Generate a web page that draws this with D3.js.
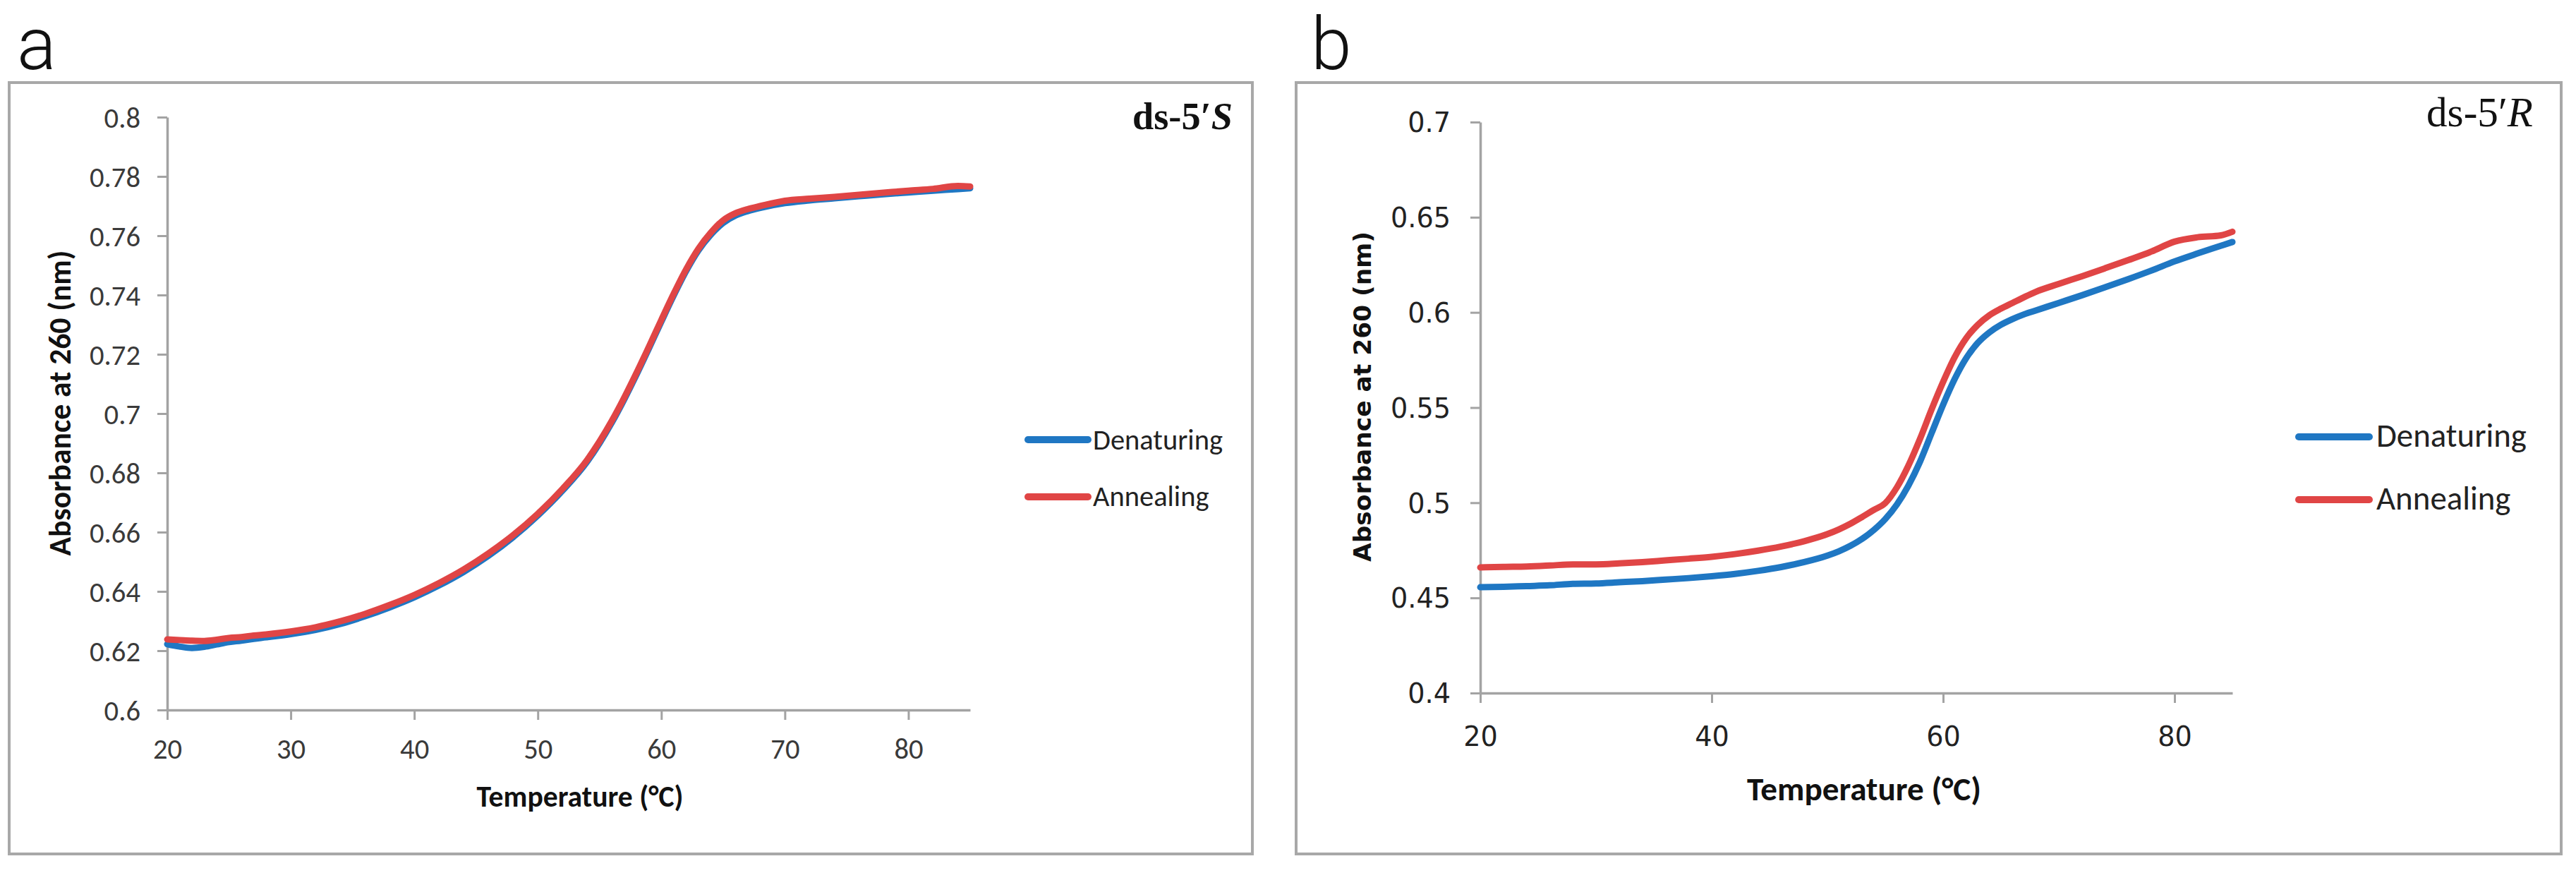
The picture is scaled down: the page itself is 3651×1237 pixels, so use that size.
<!DOCTYPE html>
<html>
<head>
<meta charset="utf-8">
<script src="https://cdn.jsdelivr.net/npm/d3@7"></script>
<style>
  body { margin: 0; background: #fff; }
</style>
</head>
<body>
<svg id="fig" width="3651" height="1237"></svg>
<script>
// ---- data ----
const seriesNames = ['Denaturing', 'Annealing'];

// panel a: ds-5'S
const tempA = [20, 21, 22, 23, 24, 25, 26, 27, 28, 30, 32, 34, 36, 38, 40, 42, 44, 46, 48, 50,
  52, 54, 55, 56, 57, 58, 59, 60, 61, 62, 63, 64, 65, 66, 67, 68, 70, 72, 74, 76, 78, 80, 82, 84, 85];
const denatA = [0.6222, 0.6214, 0.6209, 0.6213, 0.6221, 0.6229, 0.6234, 0.6240, 0.6245, 0.6256,
  0.6270, 0.6290, 0.6316, 0.6346, 0.6380, 0.6420, 0.6466, 0.6520, 0.6583, 0.6656,
  0.6740, 0.6838, 0.6900, 0.6970, 0.7048, 0.7132, 0.7220, 0.7310, 0.7398, 0.7480,
  0.7550, 0.7603, 0.7643, 0.7668, 0.7683, 0.7694, 0.7710, 0.7719, 0.7726, 0.7733,
  0.7740, 0.7746, 0.7752, 0.7757, 0.7760];
const annealA = [0.6238, 0.6236, 0.6234, 0.6233, 0.6237, 0.6243, 0.6246, 0.6251, 0.6255, 0.6265,
  0.6279, 0.6299, 0.6324, 0.6354, 0.6388, 0.6428, 0.6474, 0.6528, 0.6590, 0.6662,
  0.6746, 0.6844, 0.6906, 0.6976, 0.7054, 0.7138, 0.7226, 0.7316, 0.7404, 0.7486,
  0.7556, 0.7610, 0.7652, 0.7676, 0.7690, 0.7700, 0.7718, 0.7725, 0.7731, 0.7738,
  0.7745, 0.7752, 0.7758, 0.7768, 0.7766];

// panel b: ds-5'R
const tempB = [20, 22, 24, 26, 28, 30, 32, 34, 36, 38, 40, 42, 44, 46, 48, 50, 51, 52, 53, 54,
  55, 56, 57, 58, 59, 60, 61, 62, 63, 64, 65, 66, 67, 68, 70, 72, 74, 76, 78, 80, 82, 84, 85];
const denatB = [0.4556, 0.4558, 0.4562, 0.4566, 0.4574, 0.4576, 0.4582, 0.4588, 0.4596, 0.4604,
  0.4614, 0.4626, 0.4642, 0.4662, 0.4688, 0.4722, 0.4745, 0.4774, 0.4810, 0.4856,
  0.4914, 0.4990, 0.5090, 0.5215, 0.5365, 0.5515, 0.5650, 0.5760, 0.5840, 0.5895,
  0.5935, 0.5965, 0.5990, 0.6010, 0.6050, 0.6090, 0.6132, 0.6175, 0.6220, 0.6268,
  0.6310, 0.6350, 0.6370];
const annealB = [0.4660, 0.4663, 0.4665, 0.4670, 0.4676, 0.4676, 0.4681, 0.4688, 0.4697, 0.4706,
  0.4716, 0.4730, 0.4748, 0.4770, 0.4798, 0.4835, 0.4860, 0.4890, 0.4925, 0.4962,
  0.4998, 0.5080, 0.5195, 0.5335, 0.5490, 0.5635, 0.5765, 0.5865, 0.5935, 0.5985,
  0.6020, 0.6050, 0.6080, 0.6108, 0.6150, 0.6190, 0.6232, 0.6275, 0.6320, 0.6372,
  0.6395, 0.6405, 0.6424];

const xTicksA = [20, 30, 40, 50, 60, 70, 80];
const yTicksA = [0.6, 0.62, 0.64, 0.66, 0.68, 0.7, 0.72, 0.74, 0.76, 0.78, 0.8];
const xTicksB = [20, 40, 60, 80];
const yTicksB = [0.4, 0.45, 0.5, 0.55, 0.6, 0.65, 0.7];

const colors = { Denaturing: '#1f77c3', Annealing: '#e04545' };
const sansCal = 'Carlito, "Open Sans", sans-serif';
const sansVer = '"DejaVu Sans", Verdana, sans-serif';
const serif = '"Liberation Serif", "DejaVu Serif", serif';

const svg = d3.select('#fig');

// font size that makes `sample` exactly `width` px wide
function sizeFor(font, weight, sample, width) {
  const t = svg.append('text').attr('font-family', font).attr('font-weight', weight)
    .attr('font-size', 100).text(sample);
  const w = t.node().getComputedTextLength();
  t.remove();
  return 100 * width / w;
}

function fitText(sel, width) {
  const w = sel.node().getComputedTextLength();
  const fs = parseFloat(sel.attr('font-size'));
  sel.attr('font-size', fs * width / w);
  return sel;
}

function drawPanel(p) {
  const g = svg.append('g');

  g.append('rect')
    .attr('x', p.frame[0]).attr('y', p.frame[1])
    .attr('width', p.frame[2] - p.frame[0]).attr('height', p.frame[3] - p.frame[1])
    .attr('fill', '#fff').attr('stroke', '#a8a8a8').attr('stroke-width', 4);

  // panel letter (thin sans, sits right at the top edge)
  g.append('text')
    .attr('x', p.letter.x).attr('y', p.letter.y)
    .attr('font-family', 'Roboto, "Liberation Sans", sans-serif').attr('font-weight', 300)
    .attr('font-size', 104)
    .attr('fill', '#111').text(p.letter.text);

  const x = d3.scaleLinear().domain([20, 85]).range(p.xRange);
  const y = d3.scaleLinear().domain(p.yDomain).range(p.yRange);
  const tickSize = sizeFor(p.tickFont, 'normal', p.tickSample, p.tickSampleW);
  const fmt = d => String(+d.toFixed(2));

  const xAxis = g.append('g')
    .attr('transform', `translate(0,${p.yRange[0]})`)
    .call(d3.axisBottom(x).tickValues(p.xTicks).tickSize(p.tick).tickSizeOuter(0).tickFormat(fmt));
  xAxis.selectAll('.tick text').attr('y', p.xLabelOff).attr('dy', null);

  const yAxis = g.append('g')
    .attr('transform', `translate(${p.xRange[0]},0)`)
    .call(d3.axisLeft(y).tickValues(p.yTicks).tickSize(p.tick).tickSizeOuter(0).tickFormat(fmt));
  yAxis.selectAll('.tick text').attr('x', -p.yLabelOff).attr('dy', '0.36em');

  [xAxis, yAxis].forEach(a => {
    a.select('.domain').attr('stroke', '#a3a3a3').attr('stroke-width', 3.5);
    a.selectAll('.tick line').attr('stroke', '#a3a3a3').attr('stroke-width', 3);
    a.selectAll('.tick text').attr('font-family', p.tickFont).attr('font-size', tickSize)
      .attr('fill', p.tickColor);
  });

  // curves
  const line = d3.line()
    .x((d, i) => x(p.temps[i]))
    .y(d => y(d))
    .curve(d3.curveMonotoneX);
  seriesNames.forEach(name => {
    g.append('path')
      .datum(p.values[name])
      .attr('d', line)
      .attr('fill', 'none')
      .attr('stroke', colors[name])
      .attr('stroke-width', 9)
      .attr('stroke-linejoin', 'round')
      .attr('stroke-linecap', 'round');
  });

  // axis titles
  const yt = g.append('text')
    .attr('transform', `translate(${p.yTitle.x},${p.yTitle.y}) rotate(-90)`)
    .attr('text-anchor', 'middle')
    .attr('font-family', p.yTitle.font).attr('font-weight', 'bold').attr('font-size', 40)
    .attr('fill', '#111').text('Absorbance at 260 (nm)');
  fitText(yt, p.yTitle.len);

  const xt = g.append('text')
    .attr('x', p.xTitle.x).attr('y', p.xTitle.y)
    .attr('text-anchor', 'middle')
    .attr('font-family', sansCal).attr('font-weight', 'bold').attr('font-size', 40)
    .attr('fill', '#111').text('Temperature (°C)');
  fitText(xt, p.xTitle.len);

  // sample tag, top right
  const tag = g.append('text')
    .attr('x', p.tag.x).attr('y', p.tag.y)
    .attr('text-anchor', 'end')
    .attr('font-family', serif).attr('font-weight', p.tag.weight).attr('font-size', 50)
    .attr('fill', '#111');
  tag.append('tspan').text('ds-5′');
  tag.append('tspan').attr('font-style', 'italic').text(p.tag.letter);
  fitText(tag, p.tag.len);

  // legend
  const legSize = sizeFor(sansCal, 'normal', 'Denaturing', p.legend.len);
  seriesNames.forEach((name, i) => {
    const row = p.legend.rows[i];
    g.append('line')
      .attr('x1', p.legend.lineX[0]).attr('x2', p.legend.lineX[1])
      .attr('y1', row.y).attr('y2', row.y)
      .attr('stroke', colors[name]).attr('stroke-width', 10).attr('stroke-linecap', 'round');
    g.append('text')
      .attr('x', p.legend.textX).attr('y', row.base)
      .attr('font-family', sansCal).attr('font-size', legSize)
      .attr('fill', '#222').text(name);
  });
}

drawPanel({
  frame: [13, 117, 1775, 1210],
  letter: { text: 'a', x: 24, y: 98 },
  temps: tempA,
  values: { Denaturing: denatA, Annealing: annealA },
  xRange: [237, 1375], yDomain: [0.6, 0.8], yRange: [1006, 166],
  xTicks: xTicksA, yTicks: yTicksA,
  tick: 14, xLabelOff: 69, yLabelOff: 38,
  tickFont: sansCal, tickSample: '0.78', tickSampleW: 72, tickColor: '#3a3a3a',
  yTitle: { x: 100, y: 571, len: 433, font: sansCal },
  xTitle: { x: 822, y: 1143, len: 293 },
  tag: { x: 1747, y: 183, len: 142, weight: 'bold', letter: 'S' },
  legend: { lineX: [1457, 1542], textX: 1549, len: 184,
    rows: [{ y: 623, base: 637 }, { y: 704, base: 717 }] }
});

drawPanel({
  frame: [1837, 117, 3630, 1210],
  letter: { text: 'b', x: 1858, y: 98 },
  temps: tempB,
  values: { Denaturing: denatB, Annealing: annealB },
  xRange: [2098, 3164], yDomain: [0.4, 0.7], yRange: [982, 173],
  xTicks: xTicksB, yTicks: yTicksB,
  tick: 14, xLabelOff: 75, yLabelOff: 42,
  tickFont: sansVer, tickSample: '0.65', tickSampleW: 85, tickColor: '#222',
  yTitle: { x: 1943, y: 562, len: 468, font: sansVer },
  xTitle: { x: 2642, y: 1134, len: 332 },
  tag: { x: 3590, y: 179, len: 151, weight: 'normal', letter: 'R' },
  legend: { lineX: [3258, 3358], textX: 3368, len: 213,
    rows: [{ y: 619, base: 633 }, { y: 708, base: 722 }] }
});
</script>
</body>
</html>
